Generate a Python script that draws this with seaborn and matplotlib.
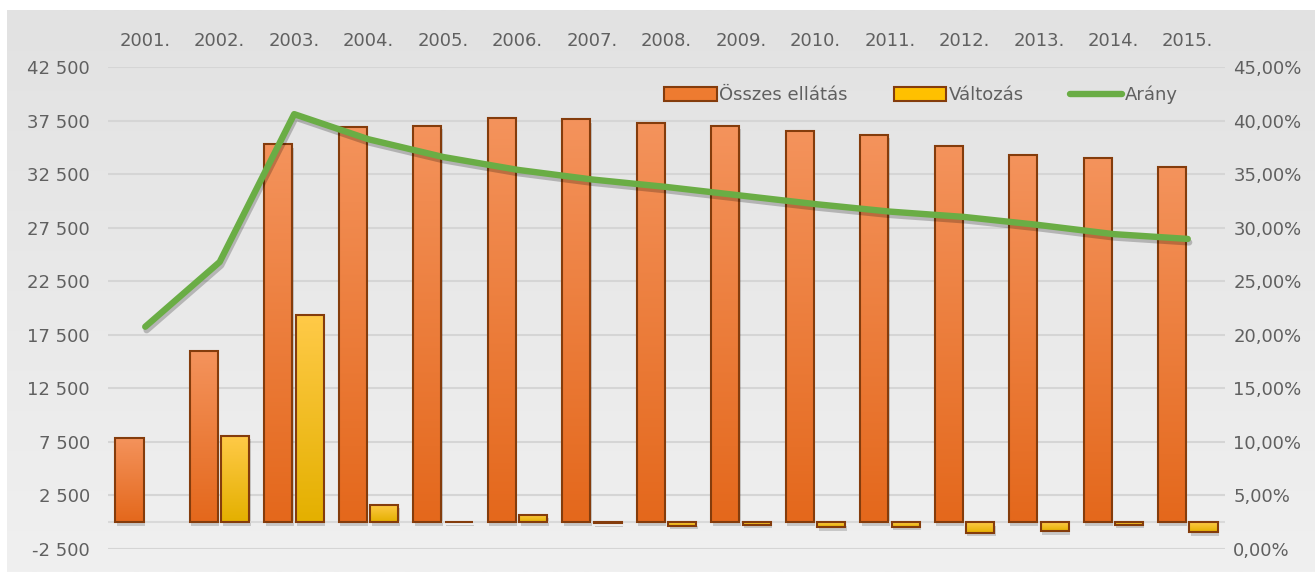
import numpy as np
import pandas as pd
import matplotlib
matplotlib.use("Agg")
import matplotlib.pyplot as plt
import matplotlib.patches as mpatches
import matplotlib.patheffects as pe
from matplotlib.colors import to_rgb
from matplotlib.lines import Line2D
from matplotlib.ticker import FuncFormatter
import seaborn as sns

# ---------------- data ----------------
years = ["2001.", "2002.", "2003.", "2004.", "2005.", "2006.", "2007.", "2008.",
         "2009.", "2010.", "2011.", "2012.", "2013.", "2014.", "2015."]
osszes = [7900, 15960, 35300, 36940, 37000, 37720, 37630, 37310,
          37000, 36540, 36170, 35170, 34330, 34020, 33120]
valtozas = [np.nan, 8060, 19340, 1640, 60, 720, -90, -310,
            -230, -460, -400, -1000, -840, -250, -930]
arany = [20.75, 26.8, 40.6, 38.25, 36.6, 35.4, 34.5, 33.8,
         33.0, 32.2, 31.5, 31.0, 30.25, 29.4, 28.95]
series_names = ["Összes ellátás", "Változás", "Arány"]
left_ticks = [-2500, 2500, 7500, 12500, 17500, 22500, 27500, 32500, 37500, 42500]
right_ticks = [0, 5, 10, 15, 20, 25, 30, 35, 40, 45]

# ---------------- style ----------------
sns.set_theme(style="white")
plt.rcParams["font.family"] = ["DejaVu Sans"]
TXT = "#606060"
ORANGE = "#EE7B30"
YELLOW = "#FFC000"
EDGE = "#843C0C"
GREEN = "#6AAD45"
FS = 13

W, H = 1315, 572
fig = plt.figure(figsize=(W / 100, H / 100), dpi=100, facecolor="white")

# background gradient panel
bg = fig.add_axes([7 / W, 0, 1 - 7 / W, 1 - 10 / H], zorder=-10)
top_c, bot_c = np.array(to_rgb("#e2e2e2")), np.array(to_rgb("#f0f0f0"))
t = np.linspace(0, 1, 256)[:, None, None]
grad = top_c * (1 - t) + bot_c * t
bg.imshow(grad, aspect="auto", extent=[0, 1, 0, 1], interpolation="bilinear")
bg.axis("off")

L, R, B, T = 108 / W, 1225 / W, (H - 549) / H, (H - 67) / H
ax = fig.add_axes([L, B, R - L, T - B])
ax.set_facecolor("none")

df = pd.DataFrame({
    "Év": years * 2,
    "Sorozat": [series_names[0]] * len(years) + [series_names[1]] * len(years),
    "Érték": osszes + valtozas,
})
sns.barplot(data=df, x="Év", y="Érték", hue="Sorozat",
            palette=[ORANGE, YELLOW], width=0.846, gap=0.11,
            edgecolor=EDGE, linewidth=1.5, legend=False, ax=ax)

ax.set_ylim(-2500, 42500)
ax.set_xlim(-0.5, len(years) - 0.5)

grad_cols = {
    "o": (to_rgb("#F4935C"), to_rgb("#E4681C")),
    "y": (to_rgb("#FFCA48"), to_rgb("#E4B000")),
}
for p in list(ax.patches):
    x0, w = p.get_x(), p.get_width()
    y0, h = p.get_y(), p.get_height()
    if not np.isfinite(h) or not np.isfinite(y0):
        p.set_visible(False)
        continue
    fc = p.get_facecolor()
    key = "o" if abs(fc[1] - to_rgb(ORANGE)[1]) < 0.1 else "y"
    ylo, yhi = min(y0, y0 + h), max(y0, y0 + h)
    c1, c2 = np.array(grad_cols[key][0]), np.array(grad_cols[key][1])
    tt = np.linspace(0, 1, 64)[:, None, None]
    img = c1 * (1 - tt) + c2 * tt
    if yhi - ylo > 0:
        im = ax.imshow(img, extent=[x0, x0 + w, ylo, yhi], aspect="auto",
                       origin="upper", zorder=2.05, interpolation="bilinear")
        im.set_clip_path(p)
    edge = mpatches.PathPatch(p.get_path(), transform=p.get_transform(),
                              facecolor="none", edgecolor=EDGE, linewidth=1.5,
                              zorder=2.1)
    ax.add_patch(edge)
    p.set_path_effects([pe.SimplePatchShadow(offset=(1.0, -2.5),
                                             shadow_rgbFace="black", alpha=0.16)])

ax.set_ylim(-2500, 42500)
ax.set_xlim(-0.5, len(years) - 0.5)
ax.set_yticks(left_ticks)
ax.yaxis.set_major_formatter(FuncFormatter(lambda v, _: f"{int(v):,}".replace(",", " ")))
ax.xaxis.tick_top()
ax.set_xlabel("")
ax.set_ylabel("")
ax.tick_params(axis="x", length=0, pad=12, labelsize=FS, labelcolor=TXT)
ax.tick_params(axis="y", length=0, pad=13, labelsize=FS, labelcolor=TXT)
ax.grid(axis="y", color="#d5d5d5", linewidth=1.5)
ax.grid(axis="x", visible=False)
ax.set_axisbelow(True)
ax.axhline(0, color="#d9d9d9", linewidth=1.5, zorder=1)
for s in ax.spines.values():
    s.set_visible(False)

# secondary axis with line
ax2 = ax.twinx()
sns.lineplot(x=np.arange(len(years)), y=arany, ax=ax2, color=GREEN,
             linewidth=4.6, solid_capstyle="round", solid_joinstyle="round",
             path_effects=[pe.SimpleLineShadow(offset=(1, -2.5), alpha=0.22,
                                               shadow_color="black"),
                           pe.Normal()])
ax2.set_ylim(0, 45)
ax.set_xlim(-0.5, len(years) - 0.5)
ax2.set_yticks(right_ticks)
ax2.yaxis.set_major_formatter(FuncFormatter(lambda v, _: f"{v:.2f}".replace(".", ",") + "%"))
ax2.tick_params(axis="y", length=0, pad=6, labelsize=FS, labelcolor=TXT)
ax2.grid(False)
for s in ax2.spines.values():
    s.set_visible(False)

handles = [
    mpatches.Patch(facecolor=ORANGE, edgecolor=EDGE, linewidth=1.5, label=series_names[0]),
    mpatches.Patch(facecolor=YELLOW, edgecolor=EDGE, linewidth=1.5, label=series_names[1]),
    Line2D([], [], color=GREEN, linewidth=4.6, solid_capstyle="round", label=series_names[2]),
]
leg = ax2.legend(handles=handles, loc="center", bbox_to_anchor=(0.728, 0.942),
                 ncol=3, frameon=False, fontsize=FS, handlelength=2.9,
                 handleheight=0.75, handletextpad=0.15, columnspacing=2.55,
                 labelcolor=TXT)

fig.savefig("out.png", dpi=100, facecolor=fig.get_facecolor())
